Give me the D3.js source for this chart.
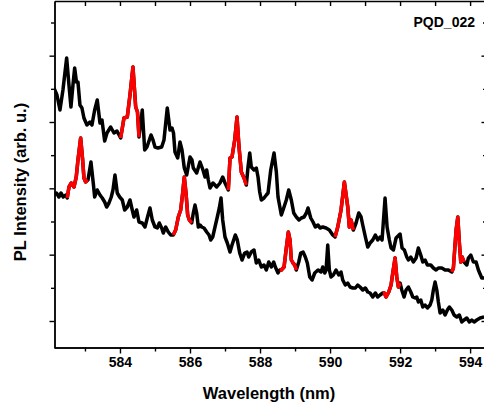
<!DOCTYPE html>
<html>
<head>
<meta charset="utf-8">
<script src="https://cdn.jsdelivr.net/npm/d3@7"></script>
<style>
  body { margin: 0; background: #fff; }
  svg { display: block; }
  text { font-family: "Liberation Sans", Arial, sans-serif; font-weight: bold; }
</style>
</head>
<body>
<svg id="chart"></svg>
<script>
// upper spectrum (offset)
const wlUpper = [582.114,582.2,582.286,582.371,582.477,582.543,582.6,582.657,582.706,582.757,582.8,582.857,582.914,582.971,583.057,583.143,583.2,583.277,583.351,583.429,583.486,583.563,583.629,583.734,583.829,583.914,584.02,584.114,584.209,584.286,584.371,584.449,584.5,584.543,584.637,584.706,584.771,584.886,584.943,585.0,585.086,585.191,585.257,585.351,585.429,585.486,585.529,585.571,585.649,585.714,585.771,585.837,585.906,586.0,586.057,586.094,586.191,586.286,586.371,586.429,586.477,586.523,586.571,586.657,586.763,586.857,586.934,587.0,587.094,587.143,587.2,587.277,587.343,587.4,587.466,587.543,587.609,587.657,587.706,587.751,587.829,587.894,587.943,587.991,588.037,588.114,588.18,588.229,588.306,588.4,588.466,588.514,588.609,588.686,588.751,588.82,588.894,588.963,589.037,589.114,589.18,589.257,589.323,589.371,589.449,589.514,589.58,589.657,589.714,589.791,589.886,589.98,590.077,590.143,590.22,590.314,590.409,590.506,590.551,590.6,590.666,590.743,590.82,590.886,590.934,591.009,591.077,591.143,591.22,591.294,591.363,591.429,591.486,591.571,591.629,591.694,591.743,591.809,591.886,591.943,592.0,592.057,592.123,592.191,592.237,592.306,592.38,592.457,592.523,592.591,592.649,592.714,592.78,592.877,592.951,593.029,593.094,593.191,593.286,593.38,593.477,593.523,593.6,593.649,593.694,593.734,593.771,593.829,593.906,593.951,594.02,594.094,594.171,594.237,594.334,594.4];
const intUpper = [780,759,714,774,870,789,723,789,840,798,798,729,720,690,669,678,669,714,744,675,684,621,645,663,645,651,630,690,693,759,843,723,708,633,714,594,603,639,624,603,600,603,624,720,654,660,645,588,570,618,594,540,519,573,564,540,525,558,534,513,534,504,480,495,483,495,513,495,474,570,573,624,693,603,528,510,489,543,585,543,534,540,513,468,444,450,459,465,534,585,528,453,399,423,444,474,444,405,393,384,390,393,405,420,390,378,363,369,360,363,360,354,339,333,363,414,498,423,363,384,354,375,405,393,369,333,303,315,324,339,324,333,324,450,363,324,300,294,330,336,342,300,294,273,264,273,258,270,300,279,258,264,249,249,240,234,240,240,234,234,228,240,354,393,315,258,273,258,249,270,279,258,258,234,210,210];

// lower spectrum
const wlLower = [582.114,582.186,582.257,582.314,582.38,582.449,582.494,582.543,582.609,582.686,582.751,582.8,582.877,582.934,582.971,583.02,583.086,583.171,583.237,583.277,583.351,583.429,583.494,583.563,583.62,583.686,583.751,583.8,583.857,583.923,583.991,584.066,584.134,584.209,584.286,584.351,584.4,584.477,584.543,584.637,584.714,584.78,584.857,584.923,585.0,585.066,585.123,585.191,585.237,585.306,585.38,585.449,585.523,585.591,585.666,585.734,585.791,585.837,585.886,585.934,585.98,586.049,586.094,586.143,586.191,586.237,586.286,586.334,586.4,586.477,586.543,586.591,586.649,586.714,586.78,586.837,586.886,586.934,587.0,587.066,587.143,587.2,587.294,587.351,587.42,587.486,587.563,587.629,587.677,587.751,587.829,587.894,587.963,588.037,588.114,588.18,588.249,588.323,588.391,588.437,588.514,588.563,588.609,588.686,588.751,588.809,588.857,588.894,588.943,588.991,589.037,589.106,589.163,589.229,589.294,589.351,589.42,589.486,589.563,589.657,589.743,589.791,589.849,589.886,589.934,589.98,590.029,590.094,590.171,590.249,590.314,590.363,590.437,590.506,590.571,590.649,590.723,590.791,590.857,590.934,591.009,591.077,591.143,591.22,591.294,591.363,591.429,591.506,591.551,591.6,591.677,591.743,591.791,591.857,591.906,591.951,592.0,592.049,592.114,592.171,592.237,592.306,592.363,592.429,592.477,592.523,592.591,592.649,592.714,592.78,592.857,592.906,592.951,593.0,593.049,593.094,593.143,593.22,593.286,593.351,593.409,593.477,593.543,593.62,593.694,593.763,593.829,593.906,593.98,594.049,594.114,594.191,594.286,594.4];
const intLower = [459,465,453,465,453,459,450,483,495,483,513,564,630,564,510,498,504,558,495,453,474,459,450,438,423,435,453,474,519,465,453,444,414,423,444,414,393,414,378,375,363,390,420,384,363,360,375,360,345,363,348,339,339,354,393,414,465,513,465,399,384,375,405,429,405,363,369,363,360,348,339,324,333,363,393,420,450,384,333,315,288,309,339,324,285,264,285,288,273,288,294,255,264,243,249,234,258,243,258,243,225,234,234,243,300,348,324,264,255,249,234,258,285,288,273,255,213,204,225,234,228,243,225,234,309,234,213,219,234,219,228,204,189,195,183,180,180,189,183,174,180,168,165,153,165,153,159,165,165,153,168,189,225,270,213,183,195,174,153,174,183,168,153,150,153,138,144,123,129,120,129,144,174,198,174,138,105,114,99,114,123,114,99,93,99,78,84,90,78,84,78,84,90,93];

// highlighted (red) peaks, wavelength ranges
const redUpper = [[584.02, 584.543], [587.094, 587.609], [590.143, 590.666], [593.477, 593.829]];
const redLower = [[582.494, 583.086], [585.523, 586.049], [588.563, 589.037], [591.506, 592.0]];

const xMajor = [584, 586, 588, 590, 592, 594];
const xMinor = [583, 585, 587, 589, 591, 593];
const yMajor = [81, 280, 479, 678, 877];
const yMinor = [180.5, 379.5, 578.5, 777.5, 976.5];

class SpectraChart {

    constructor( config ) {
        this.config = {
            parent: config.parent,
            width: config.width || 484,
            height: config.height || 408,
            margin: config.margin || {top:1, right:-1.5, bottom:60.5, left:54.5}
        }
        this.init();
    }

    init() {
        let self = this;

        self.svg = d3.select( self.config.parent )
            .attr('width', self.config.width)
            .attr('height', self.config.height);

        self.inner_width = self.config.width - self.config.margin.left - self.config.margin.right;
        self.inner_height = self.config.height - self.config.margin.top - self.config.margin.bottom;

        self.chart = self.svg.append('g')
            .attr('transform', `translate(${self.config.margin.left}, ${self.config.margin.top})`);

        self.xscale = d3.scaleLinear()
            .domain([582.13, 594.44])
            .range([0, self.inner_width]);

        self.yscale = d3.scaleLinear()
            .domain([0, 1041])
            .range([self.inner_height + 0.5, 0]);

        self.chart.append('clipPath')
            .attr('id', 'plot-clip')
            .append('rect')
            .attr('width', self.inner_width)
            .attr('height', self.inner_height);

        self.lines = self.chart.append('g')
            .attr('clip-path', 'url(#plot-clip)');
        self.axes = self.chart.append('g');
    }

    drawSeries( wl, vals, ranges ) {
        let self = this;
        const pts = wl.map((w, i) => ({w: w, v: vals[i]}));
        const line = d3.line()
            .x( d => self.xscale(d.w) )
            .y( d => self.yscale(d.v) );

        self.lines.append('path')
            .attr('d', line(pts))
            .attr('stroke', '#000')
            .attr('stroke-width', 3.5)
            .attr('stroke-linejoin', 'round')
            .attr('fill', 'none');

        ranges.forEach(r => {
            const seg = pts.filter(d => d.w >= r[0] - 1e-6 && d.w <= r[1] + 1e-6);
            self.lines.append('path')
                .attr('d', line(seg))
                .attr('stroke', '#ff0000')
                .attr('stroke-width', 3.5)
                .attr('stroke-linejoin', 'round')
                .attr('fill', 'none');
        });
    }

    axis( gen, transform, labels ) {
        let g = this.axes.append('g')
            .attr('transform', transform)
            .call( gen );
        g.selectAll('.domain, line').attr('stroke', '#000').attr('stroke-width', 1.4);
        if (!labels) g.selectAll('text').remove();
        return g;
    }

    render() {
        let self = this;
        const W = self.inner_width, H = self.inner_height;

        self.drawSeries( wlUpper, intUpper, redUpper );
        self.drawSeries( wlLower, intLower, redLower );

        // bottom
        let bx = self.axis( d3.axisBottom(self.xscale).tickValues(xMajor).tickSize(6).tickSizeOuter(0).tickPadding(4).tickFormat(d3.format('d')), `translate(0, ${H})`, true );
        bx.selectAll('text').style('font-size', '14px').attr('fill', '#000');
        self.axis( d3.axisBottom(self.xscale).tickValues(xMinor).tickSize(4).tickSizeOuter(0), `translate(0, ${H})`, false );
        // top (ticks inward)
        self.axis( d3.axisTop(self.xscale).tickValues(xMajor.concat(xMinor)).tickSize(-5).tickSizeOuter(0), `translate(0, 0)`, false );
        // left
        self.axis( d3.axisLeft(self.yscale).tickValues(yMajor).tickSize(5).tickSizeOuter(0), `translate(0, 0)`, false );
        self.axis( d3.axisLeft(self.yscale).tickValues(yMinor).tickSize(3.5).tickSizeOuter(0), `translate(0, 0)`, false );
        // right (ticks inward)
        self.axis( d3.axisRight(self.yscale).tickValues(yMajor).tickSize(-4).tickSizeOuter(0), `translate(${W}, 0)`, false );
        self.axis( d3.axisRight(self.yscale).tickValues(yMinor).tickSize(-2.5).tickSizeOuter(0), `translate(${W}, 0)`, false );

        self.svg.append('text')
            .style('font-size', '16.5px')
            .attr('x', 269)
            .attr('y', 399)
            .attr('text-anchor', 'middle')
            .text('Wavelength (nm)');

        self.svg.append('text')
            .style('font-size', '16.5px')
            .attr('transform', 'translate(26, 182) rotate(-90)')
            .attr('text-anchor', 'middle')
            .text('PL Intensity (arb. u.)');

        self.svg.append('text')
            .style('font-size', '14px')
            .attr('x', 475)
            .attr('y', 27)
            .attr('text-anchor', 'end')
            .text('PQD_022');
    }
}

const chart = new SpectraChart({ parent: '#chart' });
chart.render();
</script>
</body>
</html>
